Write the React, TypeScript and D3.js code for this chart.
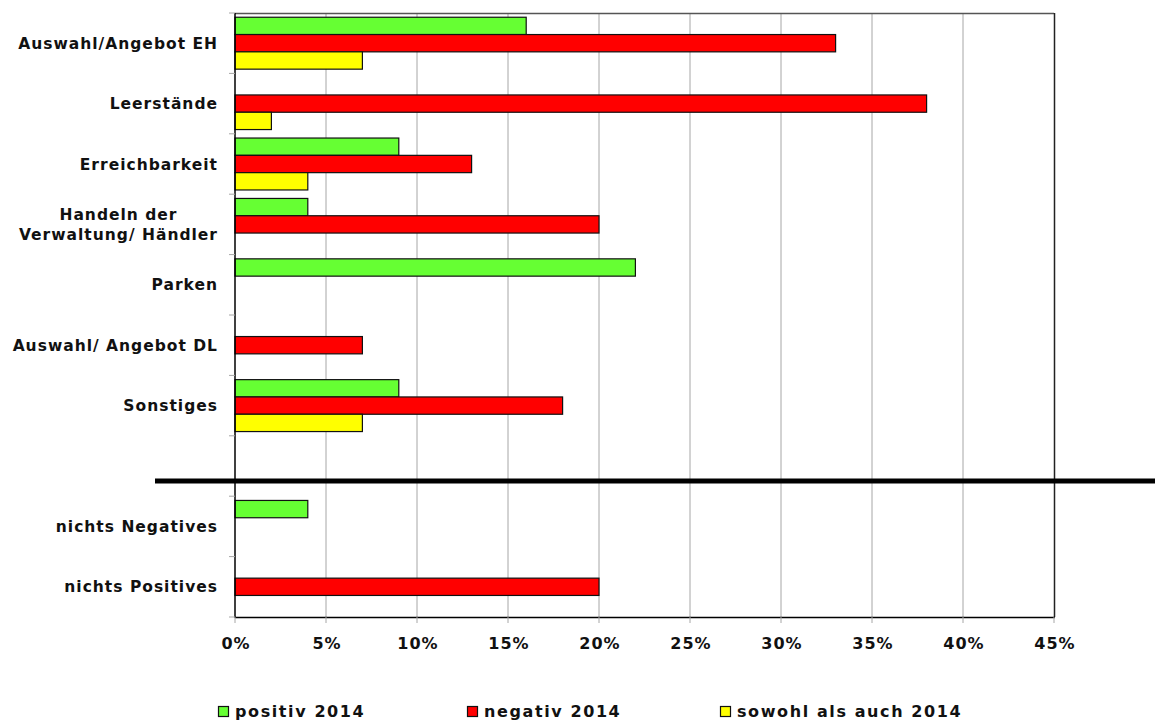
import React, { useEffect, useRef } from "react";
import * as d3 from "d3";

const categories = [
  "Auswahl/Angebot EH",
  "Leerstände",
  "Erreichbarkeit",
  "Handeln der\nVerwaltung/ Händler",
  "Parken",
  "Auswahl/ Angebot DL",
  "Sonstiges",
  "",
  "nichts Negatives",
  "nichts Positives",
];
const positiv: (number | null)[] = [16, null, 9, 4, 22, null, 9, null, 4, null];
const negativ: (number | null)[] = [33, 38, 13, 20, null, 7, 18, null, null, 20];
const sowohl: (number | null)[] = [7, 2, 4, null, null, null, 7, null, null, null];
const seriesNames = ["positiv 2014", "negativ 2014", "sowohl als auch 2014"];
const seriesColors = ["#66FF33", "#FF0000", "#FFFF00"];
const xTicks = [0, 5, 10, 15, 20, 25, 30, 35, 40, 45];

const W = 1155;
const H = 722;
const FONT = "'DejaVu Sans', sans-serif";

export default function App() {
  const ref = useRef<SVGSVGElement>(null);
  useEffect(() => {
    const svg = d3.select(ref.current);
    svg.selectAll("*").remove();
    const left = 235, right = 1054, top = 13, bottom = 617;
    const x = d3.scaleLinear().domain([0, 45]).range([left, right]);
    const y = d3.scaleBand<number>().domain(d3.range(categories.length)).range([top, bottom]).padding(0);
    const sub = d3.scaleBand<number>().domain([0, 1, 2]).range([0, y.bandwidth()]).paddingInner(0).paddingOuter(0.245);

    const g = svg.append("g");
    // grid
    g.selectAll("line.grid").data(xTicks.filter((t) => t > 0 && t < 45)).join("line")
      .attr("x1", (d) => x(d)).attr("x2", (d) => x(d)).attr("y1", top).attr("y2", bottom)
      .attr("stroke", "#a6a6a6").attr("stroke-width", 1);
    // top & right border
    g.append("line").attr("x1", left).attr("x2", right).attr("y1", top + 0.5).attr("y2", top + 0.5).attr("stroke", "#555").attr("stroke-width", 1.5);
    g.append("line").attr("x1", right + 0.5).attr("x2", right + 0.5).attr("y1", top).attr("y2", bottom).attr("stroke", "#222").attr("stroke-width", 1.5);

    // bars
    const all = [positiv, negativ, sowohl];
    all.forEach((arr, si) => {
      g.selectAll(`rect.s${si}`).data(arr.map((v, i) => ({ v, i })).filter((d) => d.v != null)).join("rect")
        .attr("x", x(0))
        .attr("y", (d) => (y(d.i) as number) + (sub(si) as number))
        .attr("width", (d) => x(d.v as number) - x(0))
        .attr("height", sub.bandwidth())
        .attr("fill", seriesColors[si])
        .attr("stroke", "#111").attr("stroke-width", 1.2);
    });

    // axes lines
    g.append("line").attr("x1", left).attr("x2", left).attr("y1", top).attr("y2", bottom + 1).attr("stroke", "#000").attr("stroke-width", 1.5);
    g.append("line").attr("x1", left).attr("x2", right + 1).attr("y1", bottom + 0.5).attr("y2", bottom + 0.5).attr("stroke", "#000").attr("stroke-width", 1.5);

    // y ticks
    const yTickPos = d3.range(categories.length + 1).map((i) => top + i * y.step());
    g.selectAll("line.yt").data(yTickPos).join("line")
      .attr("x1", left - 6).attr("x2", left).attr("y1", (d) => d).attr("y2", (d) => d)
      .attr("stroke", "#a6a6a6");
    // x ticks
    g.selectAll("line.xt").data(xTicks).join("line")
      .attr("x1", (d) => x(d)).attr("x2", (d) => x(d)).attr("y1", bottom).attr("y2", bottom + 6)
      .attr("stroke", "#a6a6a6");
    g.selectAll("text.xl").data(xTicks).join("text")
      .attr("x", (d) => x(d) + 1).attr("y", 649)
      .attr("text-anchor", "middle")
      .attr("font-family", FONT).attr("font-weight", "bold").attr("font-size", 16).attr("letter-spacing", 1)
      .attr("fill", "#111")
      .text((d) => `${d}%`);

    // category labels
    categories.forEach((c, i) => {
      if (!c) return;
      const lines = c.split("\n");
      const cy = (y(i) as number) + y.bandwidth() / 2;
      const t = g.append("text")
        .attr("font-family", FONT).attr("font-weight", "bold").attr("font-size", 15.5).attr("letter-spacing", 1)
        .attr("fill", "#111");
      if (lines.length === 1) {
        t.attr("x", 218).attr("y", cy + 5.5).attr("text-anchor", "end").text(c);
      } else {
        const spans = lines.map((l, li) =>
          t.append("tspan").attr("y", cy + 5.5 + (li - (lines.length - 1) / 2) * 20).attr("text-anchor", "middle").text(l)
        );
        const widths = spans.map((s) => (s.node() as SVGTSpanElement).getComputedTextLength());
        const cx = 218 - d3.max(widths)! / 2;
        spans.forEach((s) => s.attr("x", cx));
      }
    });

    // separator line
    g.append("line").attr("x1", 155).attr("x2", W).attr("y1", 481).attr("y2", 481).attr("stroke", "#000").attr("stroke-width", 5);

    // legend
    const legX = [218, 467, 720];
    seriesNames.forEach((n, i) => {
      g.append("rect").attr("x", legX[i] + 0.5).attr("y", 706.5).attr("width", 10).attr("height", 10)
        .attr("fill", seriesColors[i]).attr("stroke", "#111").attr("stroke-width", 1.2);
      g.append("text").attr("x", legX[i] + 17).attr("y", 717)
        .attr("font-family", FONT).attr("font-weight", "bold").attr("font-size", 16).attr("letter-spacing", 1.6)
        .attr("fill", "#111").text(n);
    });
  }, []);
  return (
    <svg ref={ref} width={W} height={H} style={{ position: "absolute", left: 0, top: 0, background: "#fff" }} />
  );
}
